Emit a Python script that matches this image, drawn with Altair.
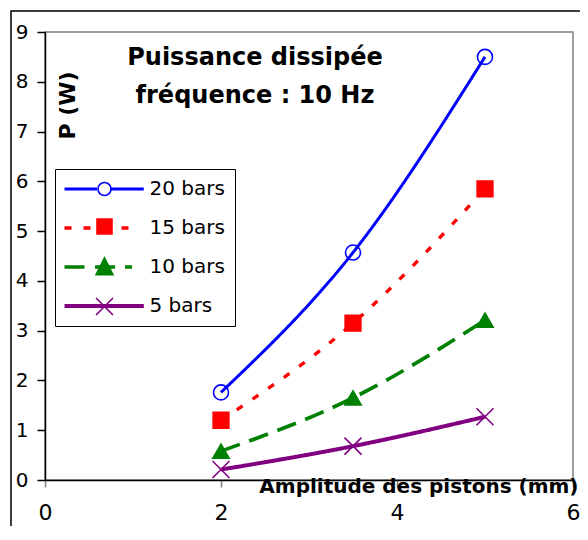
import altair as alt
import pandas as pd

# ---- data ----
amplitude = [2.0, 3.5, 5.0]
series_names = ["20 bars", "15 bars", "10 bars", "5 bars"]
p_20 = [1.76, 4.57, 8.50]
p_15 = [1.20, 3.15, 5.85]
p_10 = [0.58, 1.65, 3.21]
p_5 = [0.21, 0.68, 1.27]
x_ticks = [0, 2, 4, 6]
y_ticks = list(range(10))
title_lines = ["Puissance dissipée", "fréquence : 10 Hz"]
x_title = "Amplitude des pistons (mm)"
y_title = "P (W)"

# ---- styles ----
colors = ["#0000FF", "#FF0000", "#008000", "#800080"]
dashes = [[1, 0], [7, 12], [20, 10], [1, 0]]
line_widths = [3, 4, 5, 3.5]
shapes = ["circle", "square", "triangle-up", "M-1,-1L1,1M-1,1L1,-1"]
marker_fill = ["transparent", "#FF0000", "#008000", "transparent"]
marker_size = [225, 289, 400, 400]
legend_line_paths = ["M-6,0H-1M1,0H6.2", "M-6,0H5.4", "M-6,0H-2.15M-1.3,0H4.4", "M-6,0H6.2"]
legend_dashes = [[1, 0], [8, 14], [1, 0], [1, 0]]
legend_marker_paths = [
    "M1,0A1,1,0,1,1,-1,0A1,1,0,1,1,1,0Z",
    "M-1.15,-1.15H1.15V1.15H-1.15Z",
    "M0,-1.25L1.3,1.35H-1.3Z",
    "M-1.3,-1.3L1.3,1.3M-1.3,1.3L1.3,-1.3",
]
FONT = "DejaVu Sans"

rows = []
for name, vals in zip(series_names, [p_20, p_15, p_10, p_5]):
    for a, v in zip(amplitude, vals):
        rows.append({"amplitude": a, "P": v, "series": name, "marker": name})
df = pd.DataFrame(rows)


def fmt(v):
    if isinstance(v, str):
        return "'" + v + "'"
    if isinstance(v, list):
        return "[" + ",".join(str(x) for x in v) + "]"
    return str(v)


def by_series(vals):
    parts = []
    for name, v in zip(series_names[:-1], vals[:-1]):
        parts.append(f"datum.value === '{name}' ? {fmt(v)} : ")
    return {"expr": "".join(parts) + fmt(vals[-1])}


common_legend = dict(
    orient="none", legendX=10, legendY=137, padding=10,
    symbolSize=169, labelOffset=36,
    labelFont=FONT, labelFontSize=20, title=None, symbolOpacity=1,
)

line_legend = alt.Legend(
    strokeColor="black", fillColor="white", labelColor="black",
    symbolType=by_series(legend_line_paths),
    symbolDash=by_series(legend_dashes),
    symbolStrokeWidth=3.5, symbolOffset=28.5, rowPadding=19,
    symbolFillColor="transparent",
    **common_legend,
)

marker_legend = alt.Legend(
    labelOpacity=0,
    symbolType=by_series(legend_marker_paths),
    symbolStrokeColor=by_series(colors),
    symbolStrokeWidth=1.6, symbolOffset=29.5, rowPadding=16.5,
    **common_legend,
)

x_axis = alt.Axis(
    values=x_ticks, title=x_title, grid=False,
    domainColor="black", domainWidth=1.5,
    tickColor="#808080", tickSize=7, tickWidth=1.5,
    labelFont=FONT, labelFontSize=22, labelColor="black", labelPadding=15,
    labelFlush=False, labelOverlap=False,
    titleFont=FONT, titleFontSize=20, titleFontWeight="bold", titleColor="black",
    titleX=533, titleY=12, titleAlign="right", titleBaseline="alphabetic",
)
y_axis = alt.Axis(
    values=y_ticks, title=y_title, grid=False,
    domainColor="black", domainWidth=1.5,
    tickColor="black", tickSize=8, tickWidth=1.5,
    labelFont=FONT, labelFontSize=20, labelColor="black", labelPadding=9,
    labelFlush=False, labelOverlap=False,
    titleFont=FONT, titleFontSize=22, titleFontWeight="bold", titleColor="black",
    titleX=22, titleY=73, titleAngle=270, titleAlign="center", titleBaseline="middle",
)

x_enc = alt.X("amplitude:Q", scale=alt.Scale(domain=[0, 6], nice=False), axis=x_axis)
y_enc = alt.Y("P:Q", scale=alt.Scale(domain=[0, 9], nice=False), axis=y_axis)

base = alt.Chart(df)

lines = base.mark_line(interpolate="monotone").encode(
    x=x_enc, y=y_enc,
    color=alt.Color("series:N", scale=alt.Scale(domain=series_names, range=colors), legend=line_legend),
    strokeDash=alt.StrokeDash("series:N", scale=alt.Scale(domain=series_names, range=dashes), legend=None),
    strokeWidth=alt.StrokeWidth("series:N", scale=alt.Scale(domain=series_names, range=line_widths), legend=None),
    detail="series:N",
)

points = base.mark_point(filled=False, opacity=1, strokeWidth=1.6).encode(
    x=x_enc, y=y_enc,
    color=alt.Color("series:N", scale=alt.Scale(domain=series_names, range=colors), legend=None),
    shape=alt.Shape("marker:N", sort=series_names, scale=alt.Scale(range=shapes), legend=None),
    fill=alt.Fill("marker:N", sort=series_names, scale=alt.Scale(range=marker_fill), legend=marker_legend),
    size=alt.Size("marker:N", sort=series_names, scale=alt.Scale(range=marker_size), legend=None),
)

frame = alt.Chart(pd.DataFrame({"k": [0]})).mark_rect(
    fill="transparent", stroke="black", strokeWidth=1.5
).encode(x=alt.value(-34), x2=alt.value(800), y=alt.value(-21), y2=alt.value(800))

chart = alt.layer(frame, lines, points).properties(
    width=528, height=448,
    title=alt.Title(title_lines, font=FONT, fontSize=24, fontWeight="bold", color="black",
                    anchor="middle", baseline="top", dx=-54, dy=98, offset=0, lineHeight=38,
                    frame="group"),
    autosize=alt.AutoSizeParams(type="none"),
    padding={"left": 37, "top": 24, "right": 7, "bottom": 46},
    background="white",
).configure_view(stroke="#808080", strokeWidth=1.5)

chart.save("out.html", embed_options={"renderer": "svg", "actions": False})
